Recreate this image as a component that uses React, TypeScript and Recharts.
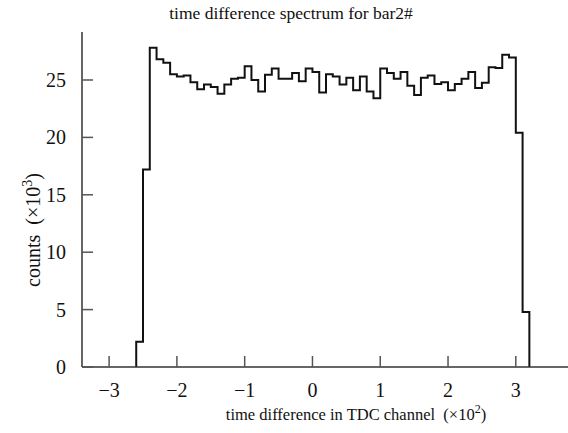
import React from 'react';
import { LineChart, Line, XAxis, YAxis } from 'recharts';

// left edges of histogram bins (×10² TDC channel)
const binEdges = [
  -2.6, -2.5, -2.4, -2.3, -2.2, -2.1, -2.0, -1.9, -1.8, -1.7,
  -1.6, -1.5, -1.4, -1.3, -1.2, -1.1, -1.0, -0.9, -0.8, -0.7,
  -0.6, -0.5, -0.4, -0.3, -0.2, -0.1, 0.0, 0.1, 0.2, 0.3,
  0.4, 0.5, 0.6, 0.7, 0.8, 0.9, 1.0, 1.1, 1.2, 1.3,
  1.4, 1.5, 1.6, 1.7, 1.8, 1.9, 2.0, 2.1, 2.2, 2.3,
  2.4, 2.5, 2.6, 2.7, 2.8, 2.9, 3.0, 3.1,
];
const lastEdge = 3.2;

// counts (×10³)
const counts = [
  2.2, 17.2, 27.8, 26.8, 26.5, 25.5, 25.3, 25.4, 24.8, 24.2,
  24.6, 24.4, 23.8, 24.6, 25.1, 25.2, 26.2, 25.0, 24.0, 25.45,
  26.0, 25.1, 25.1, 25.6, 24.9, 26.0, 25.7, 23.9, 25.5, 25.3,
  24.6, 25.2, 24.1, 25.3, 24.0, 23.4, 26.0, 25.6, 25.1, 25.7,
  24.5, 23.7, 25.2, 25.4, 24.65, 24.8, 24.1, 24.65, 25.1, 25.7,
  24.3, 24.75, 26.1, 26.05, 27.2, 26.95, 20.4, 4.8,
];

const xTicks = [-3, -2, -1, 0, 1, 2, 3];
const yTicks = [0, 5, 10, 15, 20, 25];

const data = [
  { x: binEdges[0], y: 0 },
  ...binEdges.map((x, i) => ({ x, y: counts[i] })),
  { x: lastEdge, y: 0 },
];

const FONT = '"Liberation Serif", "DejaVu Serif", serif';
const fmt = (v: number) => (v < 0 ? '\u2212' + Math.abs(v) : String(v));

const XLabel = () => (
  <text x={356} y={420} textAnchor="middle" fontSize={16.5} fontFamily={FONT} fill="#111" style={{ whiteSpace: 'pre' }}>
    {'time difference in TDC channel  (×10'}
    <tspan dy={-7} fontSize={12}>2</tspan>
    <tspan dy={7}>)</tspan>
  </text>
);

const YLabel = () => (
  <text transform="translate(40,230) rotate(-90)" textAnchor="middle" fontSize={20} fontFamily={FONT} fill="#111" style={{ whiteSpace: 'pre' }}>
    {'counts  (×10'}
    <tspan dy={-8} fontSize={14}>3</tspan>
    <tspan dy={8}>)</tspan>
  </text>
);

export default function App() {
  return (
    <div style={{ position: 'absolute', left: 0, top: 0, width: 568, height: 433, background: '#fff' }}>
      <div
        style={{
          position: 'absolute',
          left: 91,
          top: 2,
          width: 400,
          textAlign: 'center',
          fontFamily: FONT,
          fontSize: 17.5,
          lineHeight: '22px',
          color: '#111',
        }}
      >
        time difference spectrum for bar2#
      </div>
      <LineChart width={568} height={433} data={data} margin={{ top: 32, right: 0, bottom: 0, left: 0 }}>
        <XAxis
          xAxisId="top"
          orientation="top"
          dataKey="x"
          type="number"
          domain={[-3.4, 3.77]}
          height={0}
          tick={false}
          tickLine={false}
          axisLine={{ stroke: '#222', strokeWidth: 1.5 }}
        />
        <XAxis
          dataKey="x"
          type="number"
          domain={[-3.4, 3.77]}
          ticks={xTicks}
          tickFormatter={fmt}
          height={66}
          tickSize={-11}
          tickMargin={27}
          axisLine={{ stroke: '#333', strokeWidth: 1.5 }}
          tickLine={{ stroke: '#555', strokeWidth: 1.5 }}
          tick={{ fill: '#111', fontSize: 20, fontFamily: FONT }}
          allowDataOverflow
          label={<XLabel />}
        />
        <YAxis
          type="number"
          domain={[0, 29.18]}
          ticks={yTicks}
          width={82}
          tickSize={-11}
          tickMargin={27}
          axisLine={{ stroke: '#333', strokeWidth: 1.5 }}
          tickLine={{ stroke: '#555', strokeWidth: 1.5 }}
          tick={{ fill: '#111', fontSize: 20, fontFamily: FONT }}
          allowDataOverflow
          label={<YLabel />}
        />
        <Line
          xAxisId={0}
          type="stepAfter"
          dataKey="y"
          stroke="#111"
          strokeWidth={2}
          dot={false}
          isAnimationActive={false}
        />
      </LineChart>
    </div>
  );
}
